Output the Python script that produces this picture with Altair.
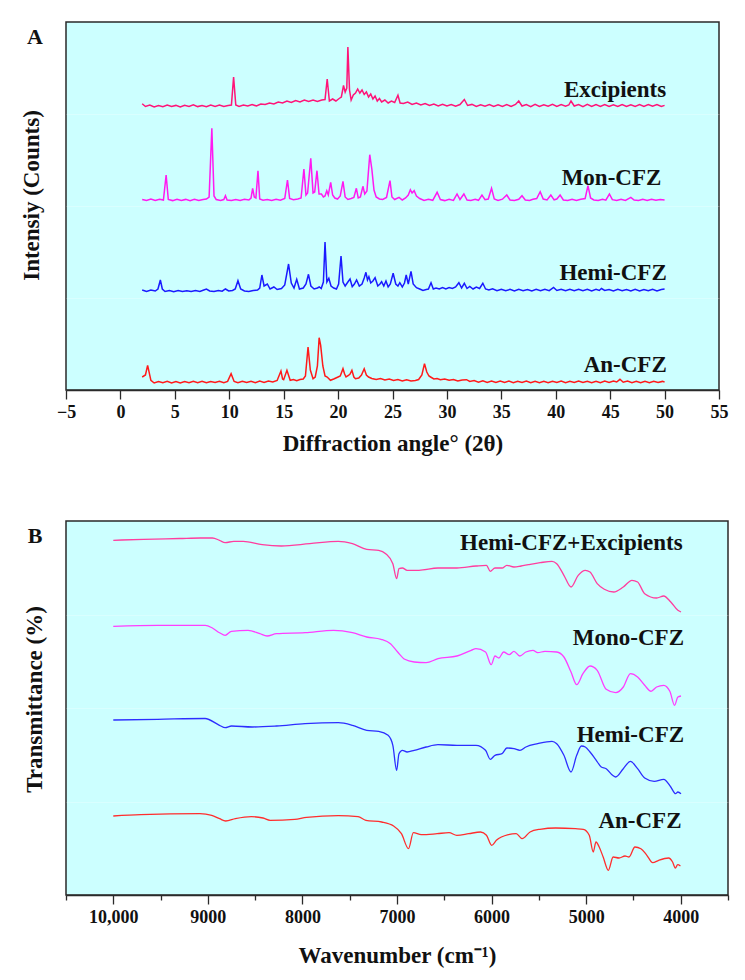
import altair as alt
import pandas as pd

FONT = "Liberation Serif"

# ---------------- Panel A: XRD (2θ in degrees, stacked intensity in arbitrary counts) -------------
XRD_EXC = [(2.0,286.3),(2.3,283.5),(2.7,285),(3.1,283),(3.5,284.5),(3.9,283.2),(4.3,285),(4.7,283.5),
    (5.1,284.6),(5.5,283),(5.9,284.8),(6.3,283.6),(6.7,285.2),(7.1,283.4),(7.5,284.5),(7.9,283.2),
    (8.3,284.9),(8.7,283.6),(9.1,285),(9.5,283.5),(9.9,284.4),(10.2,285),(10.4,313),(10.6,285),
    (10.9,283.5),(11.3,285),(11.7,284),(12.1,285.5),(12.5,284),(12.9,286),(13.3,285.5),(13.7,287),
    (14.1,286),(14.5,288),(14.9,287),(15.3,289),(15.7,287.5),(16.1,289.5),(16.5,288),(16.9,290),
    (17.3,288.5),(17.7,290),(18.1,288.5),(18.5,290),(18.8,290.5),(19.0,311),(19.2,289),(19.5,291),
    (19.8,289),(20.1,291.5),(20.3,293),(20.5,304.5),(20.65,298),(20.8,302),(20.9,343),(21.05,300),
    (21.2,290),(21.4,295),(21.6,297),(21.8,301),(22.0,297),(22.2,300),(22.4,295.5),(22.6,298),
    (22.8,293),(23.0,296),(23.2,291),(23.4,294),(23.6,289),(23.8,291.5),(24.0,288),(24.3,290),
    (24.6,287),(24.9,289),(25.2,287.5),(25.5,294.7),(25.7,287),(26.0,286.5),(26.4,288),(26.8,285.5),
    (27.2,287),(27.6,285),(28.0,286.5),(28.4,284.5),(28.8,286),(29.2,284),(29.6,285.8),(30.0,284),
    (30.4,285.5),(30.8,283.8),(31.2,285.5),(31.6,290.5),(31.9,284.5),(32.3,285.6),(32.7,283.6),
    (33.1,285.3),(33.5,283.8),(33.9,285.5),(34.3,283.5),(34.7,285.2),(35.1,283.6),(35.5,285.4),
    (35.9,283.5),(36.3,285.5),(36.6,289),(36.9,284),(37.3,285.5),(37.7,283.4),(38.1,285.6),
    (38.5,283.5),(38.9,285.3),(39.3,283.7),(39.7,285.6),(40.1,283.5),(40.5,285.4),(40.9,283.8),
    (41.2,285),(41.4,289),(41.7,284),(42.1,285.5),(42.5,283.4),(42.9,285.6),(43.3,283.5),
    (43.7,285.4),(44.1,283.6),(44.5,285.5),(44.9,283.5),(45.3,285.2),(45.7,283.6),(46.1,285.5),
    (46.5,283.5),(46.9,285.3),(47.3,283.6),(47.7,285.4),(48.1,283.5),(48.5,285.5),(48.9,283.7),
    (49.3,285.4),(49.7,283.5),(50.0,284.6)]

XRD_MON = [(2.0,190.5),(2.4,189.5),(2.8,191),(3.2,189.6),(3.6,190.8),(3.95,190),(4.2,215),(4.4,190.5),
    (4.8,189.4),(5.2,190.8),(5.6,189.5),(6.0,190.6),(6.4,189.4),(6.8,190.7),(7.2,189.6),(7.6,190.5),
    (7.9,191),(8.15,193),(8.4,261.7),(8.6,194),(8.8,190.5),(9.2,189.6),(9.5,190.5),(9.65,194.3),
    (9.8,190),(10.2,189.5),(10.6,190.6),(11.0,189.6),(11.4,190.7),(11.8,190),(12.0,192),(12.15,201.7),
    (12.3,193),(12.45,192),(12.64,219.3),(12.8,191),(13.1,189.8),(13.5,190.6),(13.9,189.5),
    (14.3,190.7),(14.7,189.8),(15.1,191.5),(15.35,210),(15.55,191.5),(15.9,190.2),(16.3,191),
    (16.6,192),(16.86,221),(17.05,195),(17.2,197),(17.49,231.7),(17.7,197),(17.85,198),(18.06,219.3),
    (18.25,196),(18.47,196),(18.65,193),(18.8,194),(18.96,199.3),(19.1,195),(19.32,207.7),(19.5,195),
    (19.7,192),(19.95,191),(20.2,194),(20.45,208.7),(20.65,193),(20.9,190.5),(21.2,191.5),
    (21.45,192.5),(21.68,201.7),(21.85,192),(22.05,193),(22.28,203.7),(22.45,196),(22.65,199),
    (22.91,235.3),(23.1,221),(23.3,200),(23.5,193),(23.8,191),(24.1,190.5),(24.45,192.5),
    (24.77,209.3),(24.95,193),(25.2,190.5),(25.6,192.7),(25.9,190),(26.2,192),(26.45,195),
    (26.64,200.3),(26.8,197),(26.99,199.3),(27.2,194),(27.5,191.5),(27.9,189.6),(28.3,190.8),
    (28.7,189.7),(29.1,197.7),(29.4,190.5),(29.8,189.4),(30.2,190.7),(30.6,189.6),(30.93,196),
    (31.2,190.5),(31.56,196),(31.85,190),(32.2,189.5),(32.6,190.8),(32.9,189.7),(33.22,195),
    (33.5,190.3),(33.8,191),(34.1,201.7),(34.35,191),(34.7,189.6),(35.1,190.8),(35.5,195),(35.8,190),
    (36.2,189.5),(36.6,190.7),(36.9,194.3),(37.2,190),(37.6,189.5),(37.9,190.7),(38.25,191.5),
    (38.57,198.3),(38.85,191),(39.2,190),(39.55,195),(39.85,190.2),(40.1,191),(40.4,195),(40.7,190),
    (41.1,189.5),(41.5,190.8),(41.9,189.6),(42.3,190.8),(42.7,191.5),(42.96,204.3),(43.2,192),
    (43.5,190),(43.9,189.5),(44.3,190.7),(44.6,189.8),(44.93,196),(45.2,190.3),(45.6,189.5),
    (46.0,190.7),(46.4,189.6),(46.9,192.7),(47.2,190),(47.6,189.5),(48.0,190.8),(48.4,189.6),
    (48.8,190.7),(49.2,189.7),(49.6,190.6),(50.0,190)]

XRD_HEMI = [(2.0,100),(2.4,98.5),(2.8,100),(3.2,99),(3.45,101),(3.67,110),(3.85,101),(4.1,98.5),
    (4.5,99.5),(4.9,98.3),(5.3,99.4),(5.7,98.4),(6.1,99.2),(6.5,98.5),(6.9,99.5),(7.3,98.6),(7.6,99.8),
    (7.9,101),(8.2,99),(8.6,98.5),(9.0,99.5),(9.35,98.8),(9.65,101),(9.95,99),(10.3,99.5),(10.55,101),
    (10.8,109.3),(11.05,101),(11.4,99),(11.8,98.6),(12.2,99.5),(12.6,100),(12.8,102),(13.0,115),
    (13.2,104),(13.5,106),(13.75,101),(14.1,103),(14.4,100.5),(14.8,101.5),(15.1,105),(15.45,126),
    (15.7,107),(15.95,102),(16.2,110.7),(16.45,101),(16.8,102),(17.05,106),(17.28,115.7),(17.5,104),
    (17.8,101),(18.1,102),(18.27,103),(18.45,101.5),(18.65,108),(18.8,148),(18.97,108),(19.15,111.7),
    (19.35,104),(19.6,102),(19.85,101),(20.05,106),(20.27,134),(20.45,108),(20.65,104),(20.9,108),
    (21.1,111),(21.3,103.3),(21.5,106),(21.7,110),(21.95,104),(22.2,106),(22.4,112),(22.56,117.7),
    (22.7,110),(22.83,113.3),(23.0,107),(23.2,109),(23.4,112.3),(23.65,104),(23.85,106),(24.0,108.3),
    (24.2,104),(24.4,109),(24.6,103),(24.8,106),(25.06,116.7),(25.3,106),(25.5,104),(25.67,107.3),
    (25.9,103),(26.1,107),(26.26,115),(26.45,106),(26.7,118.7),(26.9,106),(27.2,102.3),(27.5,101),
    (27.8,99.5),(28.1,100.5),(28.3,101),(28.54,107.3),(28.75,101),(29.0,102),(29.3,101),(29.6,102.5),
    (29.9,101),(30.2,102.5),(30.5,101.5),(30.8,103),(31.1,107.3),(31.35,102),(31.6,106.7),
    (31.85,101.5),(32.1,103.5),(32.4,101),(32.7,103),(33.0,101.5),(33.3,106.7),(33.55,101),(33.85,100),
    (34.2,101.2),(34.6,99.3),(35.0,100.8),(35.4,99.2),(35.8,100.6),(36.2,99),(36.6,100.7),(37.0,99.2),
    (37.4,100.5),(37.8,99),(38.2,100.6),(38.6,99.2),(39.0,100.8),(39.4,99.3),(39.8,102.5),(40.1,99.5),
    (40.5,100.8),(40.9,99.2),(41.3,100.6),(41.7,99.3),(42.1,100.8),(42.5,99.2),(42.9,100.6),(43.3,99),
    (43.7,100.6),(44.0,99.5),(44.2,101.5),(44.5,99.5),(44.9,100.5),(45.3,99),(45.7,100.6),(46.1,99.2),
    (46.5,100.5),(46.9,99),(47.3,100.6),(47.7,99.1),(48.1,100.5),(48.5,99.2),(48.9,100.6),(49.3,99.1),
    (49.7,100.5),(50.0,101)]

XRD_AN = [(2.0,13),(2.3,15),(2.5,24.7),(2.8,9.7),(3.1,7),(3.5,8.5),(3.9,7.2),(4.3,8.6),(4.7,7),
    (5.1,8.4),(5.5,7.1),(5.9,8.5),(6.3,7.3),(6.7,8.8),(7.1,7.4),(7.5,8.7),(7.9,7.2),(8.3,8.5),(8.7,7.5),
    (9.1,8.8),(9.5,7.4),(9.85,8.6),(10.17,16.3),(10.45,8.5),(10.8,7.3),(11.2,8.7),(11.6,7.5),(12.0,8.8),
    (12.4,7.4),(12.8,8.9),(13.2,7.6),(13.6,9),(14.0,8),(14.4,9.5),(14.75,19),(14.9,11),(15.0,10.3),
    (15.3,19.7),(15.6,9.7),(15.9,10.5),(16.2,9.2),(16.5,10.5),(16.8,11),(17.0,14),(17.24,43),
    (17.45,20),(17.7,11.3),(17.9,13),(18.1,24),(18.26,52.3),(18.4,44.7),(18.6,24),(18.8,14),(19.0,13),
    (19.3,9.7),(19.6,11),(19.8,12),(20.0,13),(20.2,14),(20.45,21.3),(20.6,16),(20.73,13),(20.95,14.5),
    (21.1,16),(21.27,19.7),(21.45,13),(21.6,11.3),(21.9,12),(22.15,15),(22.4,21.3),(22.6,15),(22.8,13),
    (23.1,11.5),(23.5,10.5),(23.9,11.5),(24.3,10),(24.7,11),(25.1,9.5),(25.5,10.5),(25.9,9),(26.3,10.3),
    (26.7,9),(27.1,9.5),(27.4,10.5),(27.7,15),(27.94,26.3),(28.15,18),(28.35,14),(28.5,13),(28.8,11),
    (29.1,11.5),(29.4,10.3),(29.8,11),(30.2,9.8),(30.6,10.4),(31.0,9),(31.4,10),(31.8,10.3),(32.1,8.5),
    (32.5,9.4),(32.9,7.8),(33.3,9.2),(33.7,7.6),(34.1,9),(34.5,7.5),(34.9,9),(35.3,7.6),(35.7,8.9),
    (36.1,7.4),(36.5,8.8),(36.9,7.5),(37.3,8.9),(37.7,7.3),(38.1,8.8),(38.5,7.4),(38.9,8.7),(39.3,7.3),
    (39.7,8.8),(40.1,7.5),(40.5,9),(40.9,7.4),(41.3,8.7),(41.7,7.6),(42.1,9),(42.5,7.5),(42.9,8.7),
    (43.3,7.4),(43.7,8.8),(44.1,7.3),(44.5,8.9),(44.9,7.6),(45.3,9),(45.6,8),(45.9,10.7),(46.2,7.8),
    (46.6,8.9),(47.0,7.4),(47.4,8.8),(47.8,7.3),(48.2,8.6),(48.6,7.4),(49.0,8.8),(49.4,7.5),(49.8,8.6),
    (50.0,8)]

XRD_NAMES = ["Excipients", "Mon-CFZ", "Hemi-CFZ", "An-CFZ"]
XRD_COLORS = ["#FF1478", "#FF1AF0", "#1A1AFF", "#FF1A1A"]
XRD_LABEL_X = [50.15, 49.7, 50.2, 50.2]
XRD_LABEL_Y = [300, 212, 117, 25]
XRD_TICKS = [-5, -2.5, 0, 2.5, 5, 7.5, 10, 12.5, 15, 17.5, 20, 22.5, 25, 27.5, 30, 32.5, 35,
             37.5, 40, 42.5, 45, 47.5, 50, 52.5, 55]
XRD_GRID = [92, 184, 276]

# ---------------- Panel B: FTIR (wavenumber cm-1, stacked transmittance, arbitrary units) --------
FTIR_HCE = [(10000,354.7),(9680,355.7),(9300,356.5),(9078,357),(8952,357),(8877,354.7),(8817,352.3),
    (8726,353.7),(8626,353.7),(8425,350.3),(8224,349),(7922,351.3),(7621,353.7),(7471,351.3),
    (7320,345.7),(7194,344.7),(7119,341.3),(7044,331.3),(7004,316.3),(6979,326.3),(6943,327),
    (6893,324.7),(6768,324.7),(6567,327),(6366,327),(6165,329),(6054,329.7),(6014,323.7),(5964,327),
    (5889,327),(5839,329.7),(5763,328),(5688,329),(5612,330.3),(5486,332.3),(5361,333.7),(5311,331.3),
    (5235,319.7),(5160,308),(5084,319.7),(5009,324.7),(4959,323),(4883,311.3),(4808,305.7),(4708,303),
    (4607,308),(4516,314.7),(4456,313),(4381,301.3),(4255,297),(4180,299),(4105,293),(4030,284.7),
    (3997,283)]

FTIR_MONO = [(10000,268.7),(9530,269.7),(9027,269.7),(8952,267),(8877,262.3),(8817,259.7),(8751,263.7),
    (8575,264.7),(8450,261.3),(8374,259),(8274,261.3),(7973,262.3),(7671,264.7),(7471,262.3),(7320,258),
    (7169,255.7),(7069,251.3),(6993,243),(6918,235.7),(6818,233),(6692,232.3),(6567,236.3),(6366,239),
    (6215,244.7),(6165,246.3),(6064,243),(6004,230.3),(5964,239),(5923,237),(5873,243),(5813,240.3),
    (5763,243.7),(5702,239),(5637,243),(5562,244.7),(5512,242.3),(5436,243.7),(5311,243),(5235,238),
    (5160,223),(5100,210.3),(5034,221.3),(4959,229),(4883,224.7),(4788,205.7),(4688,202.3),(4607,208),
    (4532,221.3),(4456,218),(4381,209.7),(4314,203.7),(4255,208),(4180,209.7),(4115,203.7),(4065,189.7),
    (4030,198),(3997,199)]

FTIR_HEMI = [(10000,175),(9530,175.7),(9030,176.5),(8877,169.7),(8817,167.3),(8750,169),(8530,168),
    (8274,169),(7973,171.3),(7620,172.3),(7471,169.7),(7320,164.7),(7194,163.7),(7094,159.7),
    (7044,149.7),(7004,124.7),(6979,141.3),(6943,144.7),(6893,143),(6818,144.7),(6692,148),(6567,150.3),
    (6366,149.7),(6165,149.7),(6064,144.7),(6014,135.7),(5964,139.7),(5889,141.3),(5839,147),
    (5763,146.3),(5700,144.7),(5637,148),(5512,151.3),(5361,153.7),(5311,151.3),(5235,139.7),(5160,123),
    (5100,139.7),(5050,149),(5009,148),(4959,143),(4900,135.7),(4840,128),(4788,126.3),(4720,119.7),
    (4688,118),(4607,126.3),(4532,133.7),(4456,126.3),(4381,117),(4280,113.7),(4180,115.7),(4105,108),
    (4055,101.3),(4030,103),(3997,101.3)]

FTIR_AN = [(10000,79),(9712,80.3),(9084,81.3),(8959,79.7),(8876,76.3),(8812,74),(8709,76.3),(8541,78.3),
    (8416,77),(8341,74.7),(8081,75.7),(7956,77.7),(7622,79.3),(7412,78.3),(7329,74.7),(7162,73),(7036,69),
    (6953,61.3),(6878,46.3),(6827,62.3),(6743,60.3),(6576,61.3),(6450,62.3),(6367,59.7),(6242,61.3),
    (6116,63),(6054,59.7),(5999,49.7),(5949,54.7),(5823,60.3),(5740,61.3),(5677,56.3),(5593,63),
    (5489,65.7),(5322,67),(5113,66.3),(5030,65.7),(4967,59.7),(4925,43),(4896,53),(4862,48),(4820,38),
    (4765,24.7),(4715,38),(4652,37),(4589,39),(4547,38),(4484,48),(4421,46.3),(4358,39.7),(4296,32.3),
    (4233,34.7),(4128,37),(4086,33),(4057,27),(4032,30.3),(4003,29)]

FTIR_NAMES = ["Hemi-CFZ+Excipients", "Mono-CFZ", "Hemi-CFZ", "An-CFZ"]
FTIR_COLORS = ["#FF3D9E", "#FF3DFF", "#2D2DFF", "#FF2D2D"]
FTIR_LABEL_X = [3979, 3965, 3965, 3992]
FTIR_LABEL_Y = [352.5, 257.5, 160.5, 74.5]
FTIR_TICKS = [3500, 3750, 4000, 4250, 4500, 4750, 5000, 5250, 5500, 5750, 6000, 6250, 6500, 6750,
              7000, 7250, 7500, 7750, 8000, 8250, 8500, 8750, 9000, 9250, 9500, 9750, 10000, 10250, 10500]
FTIR_GRID = [93.5, 187, 280.5]

INK = "#111111"


def frame(series_lists, names):
    rows = []
    for name, pts in zip(names, series_lists):
        for x, y in pts:
            rows.append({"series": name, "x": x, "y": y})
    return pd.DataFrame(rows)


dfA = frame([XRD_EXC, XRD_MON, XRD_HEMI, XRD_AN], XRD_NAMES)
dfB = frame([FTIR_HCE, FTIR_MONO, FTIR_HEMI, FTIR_AN], FTIR_NAMES)
labA = pd.DataFrame({"label": XRD_NAMES, "x": XRD_LABEL_X, "y": XRD_LABEL_Y})
labB = pd.DataFrame({"label": FTIR_NAMES, "x": FTIR_LABEL_X, "y": FTIR_LABEL_Y})

xA = alt.X("x:Q", scale=alt.Scale(domain=[-5, 55], nice=False, zero=False),
           axis=alt.Axis(title="Diffraction angle\u00b0 (2\u03b8)", values=XRD_TICKS,
                         tickSize={"condition": {"test": "datum.value % 5 === 0", "value": 9}, "value": 5},
                         labelExpr="datum.value % 5 === 0 ? datum.label : ''", format="d",
                         labelFlush=False, labelOverlap=False, grid=False,
                         labelPadding=4, titlePadding=11))
yA = alt.Y("y:Q", scale=alt.Scale(domain=[0, 368], nice=False, zero=False),
           axis=alt.Axis(title="Intensiy (Counts)", values=XRD_GRID, labels=False, ticks=False,
                         domain=False, grid=True, gridColor="white", gridOpacity=0.25,
                         titlePadding=23, titleY=173))

linesA = alt.Chart(dfA).mark_line(strokeWidth=1.5).encode(
    x=xA, y=yA,
    color=alt.Color("series:N", scale=alt.Scale(domain=XRD_NAMES, range=XRD_COLORS), legend=None),
)
textA = alt.Chart(labA).mark_text(align="right", baseline="middle", font=FONT, fontSize=23,
                                  fontWeight="bold", color=INK).encode(x="x:Q", y="y:Q", text="label:N")
tagA = alt.Chart(pd.DataFrame({"t": ["A"]})).mark_text(
    font=FONT, fontSize=22, fontWeight="bold", color=INK, baseline="middle", align="center"
).encode(text="t:N", x=alt.value(-31), y=alt.value(15))

panelA = alt.layer(linesA, textA, tagA).properties(width=653, height=368)

xB = alt.X("x:Q", scale=alt.Scale(domain=[3500, 10500], reverse=True, nice=False, zero=False),
           axis=alt.Axis(title="Wavenumber (cm\u207b\u00b9)", values=FTIR_TICKS,
                         tickSize={"condition": {"test": "datum.value % 1000 === 0", "value": 9}, "value": 5},
                         labelExpr="datum.value % 1000 === 0 ? (datum.value === 10000 ? '10,000' : format(datum.value, 'd')) : ''",
                         labelFlush=False, labelOverlap=False, grid=False,
                         labelPadding=4, titlePadding=18))
yB = alt.Y("y:Q", scale=alt.Scale(domain=[0, 374], nice=False, zero=False),
           axis=alt.Axis(title="Transmittance (%)", values=FTIR_GRID, labels=False, ticks=False,
                         domain=False, grid=True, gridColor="white", gridOpacity=0.25,
                         titlePadding=20, titleY=178))

linesB = alt.Chart(dfB).mark_line(strokeWidth=1.3, interpolate="monotone").encode(
    x=xB, y=yB,
    color=alt.Color("series:N", scale=alt.Scale(domain=FTIR_NAMES, range=FTIR_COLORS), legend=None),
)
textB = alt.Chart(labB).mark_text(align="right", baseline="middle", font=FONT, fontSize=23,
                                  fontWeight="bold", color=INK).encode(x="x:Q", y="y:Q", text="label:N")
tagB = alt.Chart(pd.DataFrame({"t": ["B"]})).mark_text(
    font=FONT, fontSize=22, fontWeight="bold", color=INK, baseline="middle", align="center"
).encode(text="t:N", x=alt.value(-31), y=alt.value(15))

panelB = alt.layer(linesB, textB, tagB).properties(width=662, height=374)

chart = alt.vconcat(panelA, panelB, spacing=64).resolve_scale(
    color="independent", x="independent", y="independent"
).properties(
    padding={"left": 19, "top": 21, "right": 8, "bottom": 8}, background="white"
).configure_view(
    fill="#CCFFFF", stroke="#2A2A2A", strokeWidth=1.5
).configure_axis(
    labelFont=FONT, titleFont=FONT, labelFontSize=18, titleFontSize=23,
    labelFontWeight="bold", titleFontWeight="bold", labelColor=INK, titleColor=INK,
    domainColor="#2A2A2A", tickColor="#2A2A2A", domainWidth=1.5, tickWidth=1.3
)

chart.save("out.html", embed_options={"renderer": "svg", "actions": False})
